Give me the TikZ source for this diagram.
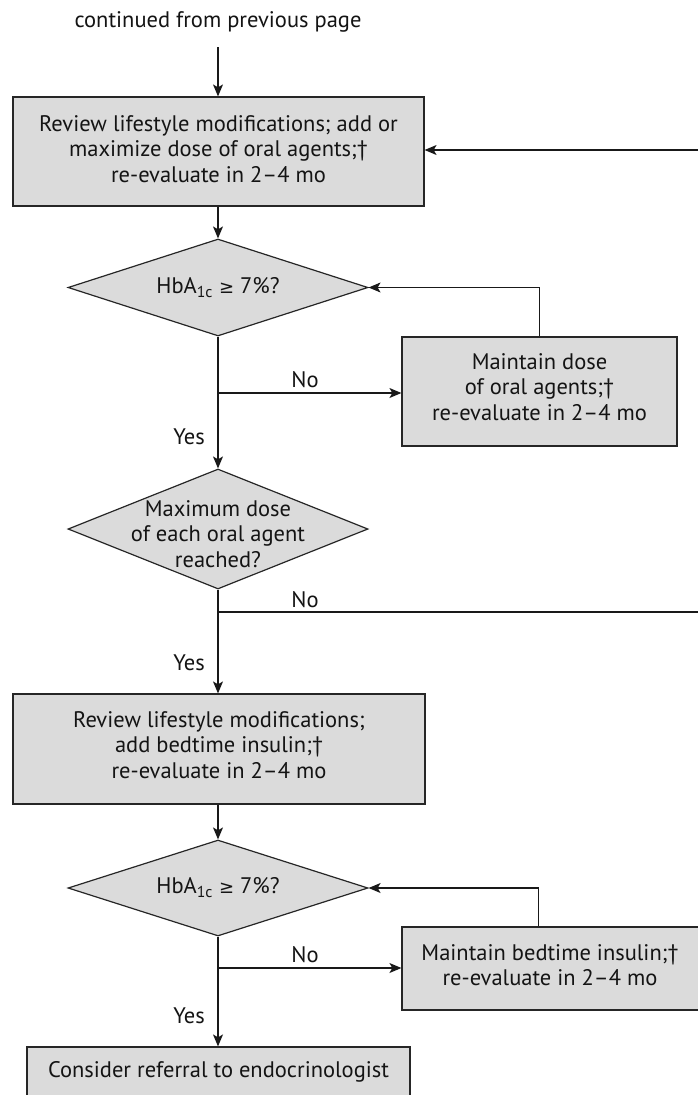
\documentclass[tikz,border=0pt]{standalone}
\usepackage{fontspec}
\setmainfont{PT Sans}
\newfontfamily\symfont{DejaVu Sans}
\usetikzlibrary{shapes.geometric,arrows.meta}
\begin{document}
\begin{tikzpicture}[x=1pt,y=-1pt,
  font=\fontsize{22.5}{25.5}\selectfont, text=black!92,
  procbox/.style={draw=black!85, fill=black!14, line width=1.2pt, rectangle, inner sep=0pt, align=center},
  decbox/.style={draw=black!85, fill=black!14, line width=1.2pt, diamond, inner sep=0pt},
  conn/.style={line width=1.1pt, draw=black!90},
  arr/.style={conn, -{Stealth[length=12pt,width=10pt,inset=3pt]}},
  lbl/.style={inner sep=0pt, align=center}
]
\useasboundingbox (0,0) rectangle (698,1095);
\fill[white] (0,0) rectangle (698,1095);

\node[lbl] (title) at (218,22) {continued from previous page};
\coordinate (tstart) at (218,47);
\node[procbox, minimum width=411pt, minimum height=109pt] (b1) at (218.5,151.5) {};
\node[lbl] (b1t) at (218.5,149) {Review lifestyle modifications; add or\\maximize dose of oral agents;†\\re-evaluate in 2–4 mo};

\node[decbox, minimum width=300pt, minimum height=97pt] (d1) at (218,287.5) {};
\node[lbl] (d1t) at (d1) {HbA\textsubscript{1c} {\symfont\fontsize{18}{20}\selectfont ≥} 7\%?};

\node[procbox, minimum width=275pt, minimum height=109pt] (b2) at (539.5,391.5) {};
\node[lbl] (b2t) at (539.5,387) {Maintain dose\\of oral agents;†\\re-evaluate in 2–4 mo};

\node[decbox, minimum width=300pt, minimum height=120pt] (d2) at (218,529) {};
\node[lbl] (d2t) at (218,534) {Maximum dose\\of each oral agent\\reached?};

\node[procbox, minimum width=412pt, minimum height=110pt] (b3) at (219,749) {};
\node[lbl] (b3t) at (219,745) {Review lifestyle modifications;\\add bedtime insulin;†\\re-evaluate in 2–4 mo};

\node[decbox, minimum width=300pt, minimum height=96pt] (d3) at (218,888) {};
\node[lbl] (d3t) at (d3) {HbA\textsubscript{1c} {\symfont\fontsize{18}{20}\selectfont ≥} 7\%?};

\node[procbox, minimum width=304pt, minimum height=83pt] (b4) at (554,968.5) {};
\node[lbl] (b4t) at (550,965) {Maintain bedtime insulin;†\\re-evaluate in 2–4 mo};

\node[procbox, minimum width=383pt, minimum height=60pt] (b5) at (218.5,1077) {};
\node[lbl] (b5t) at (218.5,1072) {Consider referral to endocrinologist};

% connectors
\draw[arr] (tstart) -- (tstart |- b1.north);
\coordinate (redge1) at (710,150);
\draw[arr] (redge1) -- (redge1 -| b1.east);
\draw[arr] (d1.north |- b1.south) -- (d1.north);
\draw[arr] (d1.south) -- (d2.north);
\coordinate (n1) at (218,393);
\draw[arr] (n1) -- (n1 -| b2.west);
\node[lbl] (no1) at (305,380) {No};
\draw[arr] (b2.north) |- (d1.east);
\node[lbl, anchor=east] (yes1) at (205,437) {Yes};

\draw[arr] (d2.south) -- (d2.south |- b3.north);
\coordinate (n2) at (218,612);
\coordinate (n2e) at (710,612);
\draw[conn] (n2) -- (n2e);
\node[lbl] (no2) at (305,600) {No};
\node[lbl, anchor=east] (yes2) at (205,663) {Yes};

\draw[arr] (d3.north |- b3.south) -- (d3.north);
\coordinate (n3) at (218,968);
\draw[arr] (n3) -- (n3 -| b4.west);
\node[lbl] (no3) at (305,955) {No};
\draw[arr] ([xshift=137pt]b4.north west) |- (d3.east);
\node[lbl, anchor=east] (yes3) at (205,1016) {Yes};
\draw[arr] (d3.south) -- (d3.south |- b5.north);
\end{tikzpicture}
\end{document}
